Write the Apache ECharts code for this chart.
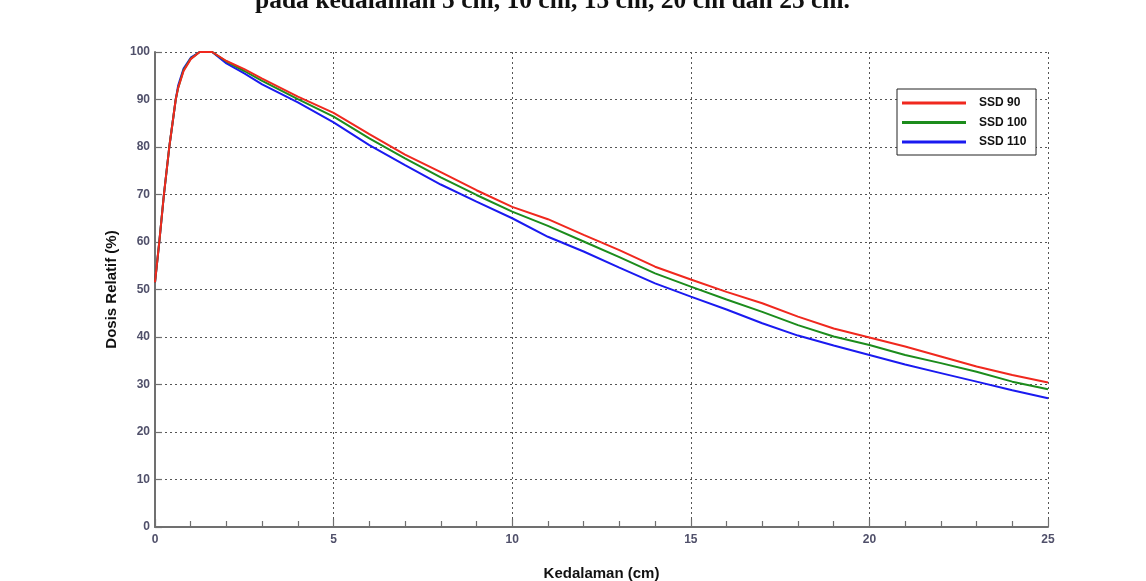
<!DOCTYPE html>
<html>
<head>
<meta charset="utf-8">
<script src="https://cdn.jsdelivr.net/npm/echarts@6/dist/echarts.min.js"></script>
<style>
html,body{margin:0;padding:0;background:#fff;}
#chart{width:1146px;height:581px;}
</style>
</head>
<body>
<div id="chart"></div>
<script>
const depth = [0, 0.12, 0.25, 0.4, 0.58, 0.65, 0.8, 1.0, 1.25, 1.6, 2, 2.5, 3, 4, 5, 6, 7, 8, 9, 10, 11, 12, 13, 14, 15, 16, 17, 18, 19, 20, 21, 22, 23, 24, 25];
const ssd90  = [51.5, 60, 70, 80, 90, 92.5, 96.0, 98.5, 100, 100, 98.1, 96.4, 94.4, 90.6, 87.2, 82.7, 78.4, 74.7, 70.9, 67.4, 64.8, 61.5, 58.3, 54.8, 52.1, 49.5, 47.1, 44.3, 41.8, 39.9, 38.0, 35.9, 33.8, 32.0, 30.4];
const ssd100 = [51.5, 60, 70, 80, 90, 92.5, 96.2, 98.6, 100, 100, 98.0, 96.0, 93.9, 90.1, 86.4, 81.8, 77.6, 73.6, 69.9, 66.4, 63.4, 60.1, 56.8, 53.4, 50.6, 47.9, 45.3, 42.5, 40.1, 38.3, 36.2, 34.5, 32.7, 30.6, 29.0];
const ssd110 = [51.5, 60, 70, 80, 90, 93.0, 96.5, 98.8, 100, 100, 97.6, 95.5, 93.2, 89.4, 85.2, 80.4, 76.2, 72.1, 68.5, 65.0, 61.1, 58.0, 54.6, 51.3, 48.5, 45.8, 42.9, 40.3, 38.2, 36.2, 34.2, 32.4, 30.6, 28.8, 27.1];
const seriesNames = ['SSD 90', 'SSD 100', 'SSD 110'];
const seriesColors = ['#f0281e', '#1c8c1c', '#1a1af0'];
const titleText = 'pada kedalaman 5 cm, 10 cm, 15 cm, 20 cm dan 25 cm.';
const xTitle = 'Kedalaman (cm)';
const yTitle = 'Dosis Relatif (%)';

function pairs(ys){ return depth.map((d,i)=>[d, ys[i]]); }
const allY = [ssd90, ssd100, ssd110];

const chart = echarts.init(document.getElementById('chart'), null, {renderer:'canvas'});
const labelStyle = {color:'#50506a', fontWeight:'bold', fontFamily:"'Liberation Sans Narrow','Liberation Sans',Arial,sans-serif", fontSize:12};
const gridLine = {show:true, lineStyle:{color:'#555', width:1, type:[2,3]}};

const series = [2,1,0].map(i => ({
  name: seriesNames[i],
  type: 'line',
  data: pairs(allY[i]),
  symbol: 'none',
  smooth: false,
  lineStyle: {color: seriesColors[i], width: 2},
  itemStyle: {color: seriesColors[i]},
  z: 3 + (2 - i),
  animation: false
}));

chart.setOption({
  animation: false,
  backgroundColor: '#fff',
  grid: {left: 155, right: 98, top: 52, bottom: 54, containLabel: false, outerBoundsMode: 'none'},
  graphic: [{
    type: 'text',
    left: 255,
    top: -12,
    style: {text: titleText, font: "bold 25.5px 'Liberation Serif','Times New Roman',serif", fill: '#111'}
  }],
  legend: {
    orient: 'vertical',
    left: 897,
    top: 89,
    data: seriesNames,
    icon: 'rect',
    itemWidth: 64,
    itemHeight: 3,
    itemGap: 7.5,
    padding: [8, 9, 7, 5],
    backgroundColor: '#fff',
    borderColor: '#222',
    borderWidth: 1,
    textStyle: {color:'#111', fontWeight:'bold', fontSize:12, fontFamily:"'Liberation Sans',Arial,sans-serif", padding:[0,0,0,8]}
  },
  xAxis: {
    type: 'value',
    min: 0, max: 25, interval: 5,
    name: xTitle,
    nameLocation: 'middle',
    nameGap: 39,
    nameTextStyle: {color:'#111', fontWeight:'bold', fontSize:15, fontFamily:"'Liberation Sans',Arial,sans-serif"},
    axisLine: {show:true, onZero:false, lineStyle:{color:'#707070', width:2}},
    axisTick: {show:true, inside:true, length:8, lineStyle:{color:'#707070', width:1.2}},
    minorTick: {show:true, splitNumber:5, length:6, lineStyle:{color:'#707070', width:1.2}},
    axisLabel: Object.assign({margin:7}, labelStyle),
    splitLine: gridLine
  },
  yAxis: {
    type: 'value',
    min: 0, max: 100, interval: 10,
    name: yTitle,
    nameLocation: 'middle',
    nameGap: 30,
    nameTextStyle: {color:'#111', fontWeight:'bold', fontSize:15, fontFamily:"'Liberation Sans',Arial,sans-serif"},
    axisLine: {show:true, onZero:false, lineStyle:{color:'#707070', width:2}},
    axisTick: {show:true, inside:true, length:7, lineStyle:{color:'#707070', width:1.2}},
    axisLabel: Object.assign({margin:5}, labelStyle),
    splitLine: gridLine
  },
  series: series
});
</script>
</body>
</html>
